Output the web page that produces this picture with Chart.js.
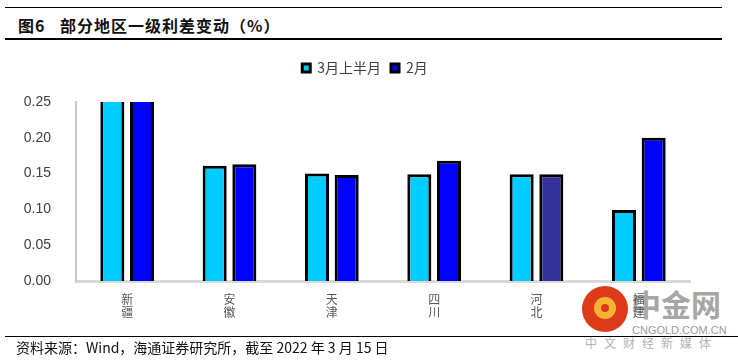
<!DOCTYPE html>
<html>
<head>
<meta charset="utf-8">
<script src="https://cdn.jsdelivr.net/npm/chart.js@4.4.0/dist/chart.umd.min.js"></script>
<style>
  body { margin: 0; background: #fff; width: 738px; height: 361px; overflow: hidden; position: relative; font-family: "Noto Sans CJK SC", "Liberation Sans", sans-serif; }
  #chart { position: absolute; left: 0; top: 0; }
  .rule { position: absolute; background: #000; }
  .title { position: absolute; top: 17px; font-size: 16px; line-height: 16px; font-weight: bold; color: #111; white-space: pre; letter-spacing: 1px; }
  #source { position: absolute; left: 16px; top: 339px; font-size: 14px; line-height: 16px; color: #111; white-space: pre; }
  #wm { position: absolute; left: 0; top: 0; }
  #wm div { position: absolute; white-space: nowrap; }
</style>
</head>
<body>
<div class="rule" style="left:5px;top:7px;width:717px;height:1px;"></div>
<div class="title" style="left:18px;">图6</div>
<div class="title" style="left:60px;">部分地区一级利差变动（%）</div>
<div class="rule" style="left:5px;top:38px;width:717px;height:2px;"></div>
<div id="wm">
  <div style="left:582px;top:286px;width:46px;height:46px;border-radius:50%;background:#dd3a1a;"></div>
  <div style="left:594px;top:297px;width:22px;height:22px;border-radius:50%;background:#f5b335;"></div>
  <div style="left:601px;top:304px;width:8px;height:8px;border-radius:50%;background:#dd3a1a;"></div>
  <div style="left:631px;top:287px;font-size:30px;line-height:32px;font-weight:bold;color:#a6a6a6;">中金网</div>
  <div style="left:632px;top:324px;font-size:11px;line-height:12px;color:#9c9c9c;font-family:'Liberation Sans';">CNGOLD.COM.CN</div>
  <div style="left:585px;top:337px;font-size:12px;line-height:12px;color:#b4b4b4;letter-spacing:7px;">中文财经新媒体</div>
</div>
<canvas id="chart" width="738" height="361"></canvas>
<div class="rule" style="left:5px;top:336px;width:733px;height:1px;"></div>
<div id="source">资料来源：Wind，海通证券研究所，截至 2022 年 3 月 15 日</div>
<script>
// 部分地区一级利差变动（%）
var regions = [['新', '疆'], ['安', '徽'], ['天', '津'], ['四', '川'], ['河', '北'], ['福', '建']];
var firstHalfMarch = [0.28, 0.161, 0.150, 0.149, 0.149, 0.099];
var february = [0.28, 0.163, 0.148, 0.168, 0.149, 0.200];
var februaryColors = ['#0000ff', '#0000ff', '#0000ff', '#0000ff', '#333399', '#0000ff'];
var yTicks = [0, 0.05, 0.10, 0.15, 0.20, 0.25];

// legend: extra room underneath, and nudged right like the original
var legendTweak = {
    id: 'legendTweak',
    afterInit: function(chart) {
        var lg = chart.legend;
        var fit = lg.fit;
        lg.fit = function() {
            fit.call(this);
            this.height += 17;
        };
        var draw = lg.draw;
        lg.draw = function() {
            var c = this.ctx;
            c.save();
            c.translate(20, 0);
            draw.call(this);
            c.restore();
        };
    }
};

var ctx = document.getElementById('chart').getContext('2d');
var chart = new Chart(ctx, {
    type: 'bar',
    data: {
        labels: regions,
        datasets: [
            {
                label: '3月上半月',
                data: firstHalfMarch,
                backgroundColor: '#00ccff',
                borderColor: '#000',
                borderWidth: 3,
                clip: 0
            },
            {
                label: '2月',
                data: february,
                backgroundColor: function(c) { return februaryColors[c.dataIndex] || '#0000ff'; },
                borderColor: '#000',
                borderWidth: 3,
                clip: 0
            }
        ]
    },
    options: {
        responsive: false,
        animation: false,
        categoryPercentage: 0.58,
        barPercentage: 0.81,
        layout: { padding: { top: 51, right: 48, left: 0, bottom: 0 } },
        plugins: {
            legend: {
                position: 'top',
                labels: {
                    boxWidth: 8,
                    boxHeight: 8,
                    padding: 10,
                    color: '#404040',
                    font: { size: 14, family: '"Noto Sans CJK SC", sans-serif' }
                }
            },
            tooltip: { enabled: false }
        },
        scales: {
            x: {
                grid: { display: false },
                border: { display: true, color: '#d9d9d9', width: 3 },
                ticks: {
                    color: '#595959',
                    padding: 4,
                    maxRotation: 0,
                    font: { size: 12, family: '"Noto Sans CJK SC", sans-serif', lineHeight: 1.1 }
                },
                afterFit: function(scale) { scale.height = 80; }
            },
            y: {
                min: 0,
                max: 0.25,
                grid: { display: false },
                border: { display: true, color: '#c8c8c8', width: 2 },
                afterBuildTicks: function(scale) {
                    scale.ticks = yTicks.map(function(v) { return { value: v }; });
                },
                ticks: {
                    color: '#404040',
                    padding: 17,
                    font: { size: 14, family: '"Liberation Sans", Arial, sans-serif' },
                    callback: function(v) { return Number(v).toFixed(2); }
                },
                afterFit: function(scale) { scale.width = 76; }
            }
        }
    },
    plugins: [legendTweak]
});
</script>
</body>
</html>
